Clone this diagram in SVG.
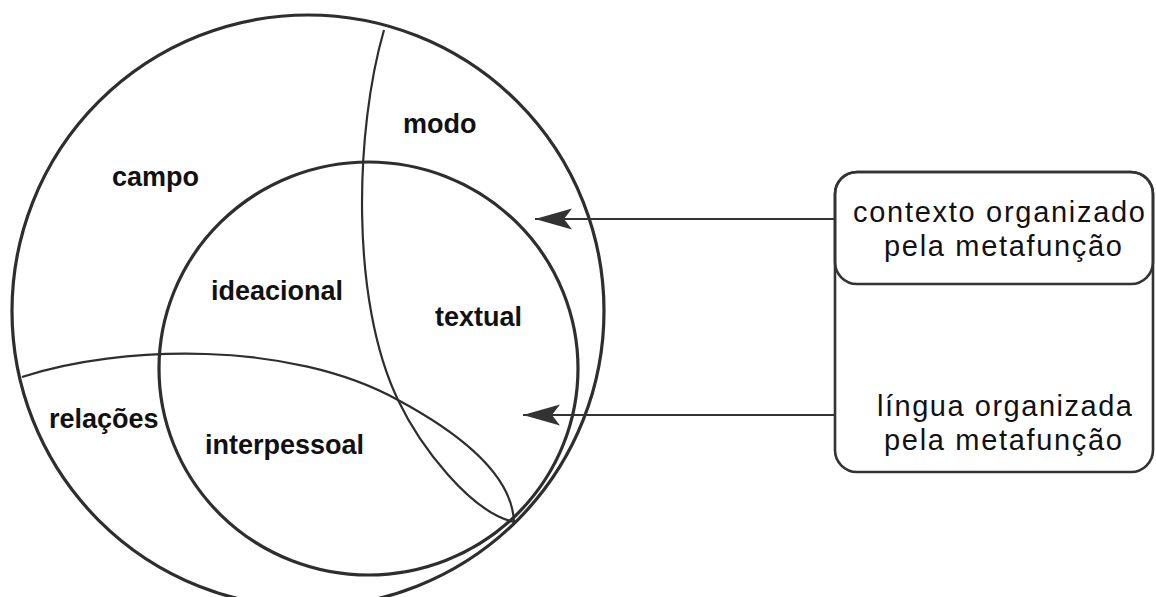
<svg xmlns="http://www.w3.org/2000/svg" width="1156" height="597" viewBox="0 0 1156 597">
<style>
.ring{fill:none;stroke:#2e2e2e;stroke-width:3.2}
.thin{fill:none;stroke:#2e2e2e;stroke-width:2.2}
.box{fill:none;stroke:#333;stroke-width:2.6}
.lab{font-family:"Liberation Sans",Arial,sans-serif;font-weight:bold;font-size:27px;fill:#111}
.btxt{font-family:"Liberation Sans",Arial,sans-serif;font-size:29px;fill:#111}
.conn{fill:none;stroke:#333;stroke-width:1.8}
</style>
<defs>
<marker id="barb" markerUnits="userSpaceOnUse" markerWidth="40" markerHeight="24" refX="0" refY="0" orient="auto" overflow="visible">
<path d="M0,0 L-37,-10.5 L-29,0 L-37,10.5 Z" fill="#333"/>
</marker>
</defs>
<rect x="0" y="0" width="1156" height="597" fill="#ffffff"/>
<g id="outer-circle">
<circle cx="308" cy="311" r="296" fill="#f5f5f5" class="ring"/>
</g>
<g id="inner-circle">
<ellipse cx="368.5" cy="368.5" rx="209.5" ry="206.5" class="ring"/>
</g>
<g id="modo-boundary">
<path class="thin" d="M384,30 C355,130 350,300 398,400 C420,446 470,512 514,522"/>
</g>
<g id="relacoes-boundary">
<path class="thin" d="M22,377 C120,345 290,340 398,400 C450,428 512,470 514,522"/>
</g>
<g id="labels">
<text class="lab" x="112" y="186">campo</text>
<text class="lab" x="403" y="133">modo</text>
<text class="lab" x="211" y="300">ideacional</text>
<text class="lab" x="435" y="326">textual</text>
<text class="lab" x="49" y="428">relações</text>
<text class="lab" x="205" y="454">interpessoal</text>
</g>
<g id="box">
<rect class="box" x="835" y="172" width="318" height="300" rx="22" ry="22" fill="#ffffff"/>
<rect class="box" x="835" y="172" width="318" height="112" rx="22" ry="22"/>
</g>
<g id="box-upper-text">
<text class="btxt" x="853" y="222" textLength="292" lengthAdjust="spacing">contexto organizado</text>
<text class="btxt" x="884" y="256" textLength="238" lengthAdjust="spacing">pela metafunção</text>
</g>
<g id="box-lower-text">
<text class="btxt" x="877" y="416" textLength="255" lengthAdjust="spacing">língua organizada</text>
<text class="btxt" x="884" y="450" textLength="238" lengthAdjust="spacing">pela metafunção</text>
</g>
<g id="connectors">
<line class="conn" x1="835" y1="219" x2="535" y2="219" marker-end="url(#barb)"/>
<line class="conn" x1="835" y1="415" x2="523" y2="415" marker-end="url(#barb)"/>
</g>
</svg>
